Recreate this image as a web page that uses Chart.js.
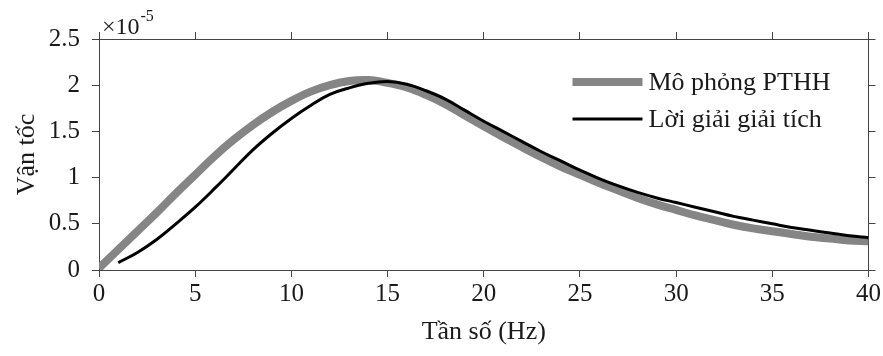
<!DOCTYPE html>
<html>
<head>
<meta charset="utf-8">
<script src="https://cdn.jsdelivr.net/npm/chart.js@4/dist/chart.umd.min.js"></script>
<style>
  html, body { margin: 0; padding: 0; background: #fff; }
  #wrap { width: 883px; height: 356px; }
</style>
</head>
<body>
<div id="wrap"><canvas id="chart"></canvas></div>
<script>
// values are in units of 1e-5
const freqFE = [0, 1, 2, 3, 4, 5, 6, 7, 8, 9, 10, 11, 12, 13, 14, 15, 16, 17, 18, 19, 20,
  21, 22, 23, 24, 25, 26, 27, 28, 29, 30, 31, 32, 33, 34, 35, 36, 37, 38, 39, 40];
const velFE = [0.02, 0.22, 0.42, 0.62, 0.83, 1.03, 1.23, 1.41, 1.57, 1.71, 1.83, 1.93, 2.00, 2.045, 2.055,
  2.025, 1.975, 1.895, 1.795, 1.675, 1.555, 1.44, 1.33, 1.22, 1.12, 1.03, 0.94, 0.86, 0.78, 0.71,
  0.65, 0.59, 0.54, 0.49, 0.45, 0.42, 0.39, 0.36, 0.34, 0.32, 0.31];

const freqAn = [1, 2, 3, 4, 5, 6, 7, 8, 9, 10, 11, 12, 13, 14, 15, 16, 17, 18, 19, 20,
  21, 22, 23, 24, 25, 26, 27, 28, 29, 30, 31, 32, 33, 34, 35, 36, 37, 38, 39, 40];
const velAn = [0.08, 0.19, 0.33, 0.50, 0.68, 0.88, 1.09, 1.30, 1.48, 1.64, 1.78, 1.90, 1.97, 2.02, 2.04,
  2.01, 1.94, 1.85, 1.73, 1.61, 1.50, 1.39, 1.28, 1.18, 1.08, 0.99, 0.91, 0.84, 0.78, 0.73,
  0.68, 0.63, 0.58, 0.54, 0.50, 0.46, 0.43, 0.40, 0.37, 0.35];

const seriesNames = ["Mô phỏng PTHH", "Lời giải giải tích"];
const xTicks = [0, 5, 10, 15, 20, 25, 30, 35, 40];
const yTicks = [0, 0.5, 1, 1.5, 2, 2.5];

const FONT = "'Liberation Serif', 'Times New Roman', serif";
const AXIS = "#444";
const TXT = "#1a1a1a";

function toPoints(xs, ys) {
  return xs.map((x, i) => ({ x: x, y: ys[i] }));
}

// legend + exponent label, drawn inside the plot like the matlab figure
const extras = {
  id: "extras",
  afterDraw(chart) {
    const ctx = chart.ctx;
    const a = chart.chartArea;
    ctx.save();
    ctx.fillStyle = TXT;
    ctx.textBaseline = "alphabetic";
    ctx.textAlign = "left";
    ctx.font = "24px " + FONT;
    ctx.fillText("×10", a.left + 3, a.top - 5);
    const w = ctx.measureText("×10").width;
    ctx.font = "16px " + FONT;
    ctx.fillText("-5", a.left + 3 + w + 1, a.top - 18);

    const ds = chart.data.datasets;
    const x0 = a.right - 296, x1 = a.right - 226;
    const rows = [a.top + 43, a.top + 80];
    ds.forEach((d, i) => {
      ctx.beginPath();
      ctx.strokeStyle = d.borderColor;
      ctx.lineWidth = d.borderWidth;
      ctx.moveTo(x0, rows[i]);
      ctx.lineTo(x1, rows[i]);
      ctx.stroke();
      ctx.font = "26px " + FONT;
      ctx.fillStyle = TXT;
      ctx.textBaseline = "middle";
      ctx.fillText(d.label, x1 + 6, rows[i] + 1);
    });
    ctx.restore();
  }
};

function edgeGrid() {
  return { drawOnChartArea: false, drawTicks: true, tickLength: 7, color: AXIS, lineWidth: 1 };
}

new Chart(document.getElementById("chart"), {
  type: "line",
  data: {
    datasets: [
      {
        label: seriesNames[0],
        data: toPoints(freqFE, velFE),
        borderColor: "#858585",
        borderWidth: 8,
        pointRadius: 0,
        tension: 0.4,
        order: 1
      },
      {
        label: seriesNames[1],
        data: toPoints(freqAn, velAn),
        borderColor: "#000",
        borderWidth: 3,
        pointRadius: 0,
        tension: 0.4,
        order: 0
      }
    ]
  },
  options: {
    responsive: true,
    maintainAspectRatio: false,
    animation: false,
    layout: { padding: 0 },
    plugins: { legend: { display: false }, tooltip: { enabled: false } },
    scales: {
      x: {
        type: "linear",
        position: "bottom",
        min: 0, max: 40,
        afterBuildTicks: s => { s.ticks = xTicks.map(v => ({ value: v })); },
        grid: edgeGrid(),
        border: { display: true, color: AXIS, width: 1 },
        ticks: { color: TXT, font: { family: FONT, size: 25 }, padding: 2, maxRotation: 0, callback: v => String(v) },
        title: { display: true, text: "Tần số (Hz)", color: TXT, font: { family: FONT, size: 26 }, padding: { top: 0, bottom: 8 } },
        afterFit: s => { s.height = 86; }
      },
      xTop: {
        type: "linear",
        position: "top",
        min: 0, max: 40,
        afterBuildTicks: s => { s.ticks = xTicks.map(v => ({ value: v })); },
        grid: edgeGrid(),
        border: { display: true, color: AXIS, width: 1 },
        ticks: { display: false },
        afterFit: s => { s.height = 39; }
      },
      y: {
        type: "linear",
        position: "left",
        min: 0, max: 2.5,
        afterBuildTicks: s => { s.ticks = yTicks.map(v => ({ value: v })); },
        grid: edgeGrid(),
        border: { display: true, color: AXIS, width: 1 },
        ticks: { color: TXT, font: { family: FONT, size: 25 }, padding: 12, callback: v => String(v) },
        title: { display: true, text: "Vận tốc", color: TXT, font: { family: FONT, size: 26 }, padding: { top: 12, bottom: 0 } },
        afterFit: s => { s.width = 99; }
      },
      yRight: {
        type: "linear",
        position: "right",
        min: 0, max: 2.5,
        afterBuildTicks: s => { s.ticks = yTicks.map(v => ({ value: v })); },
        grid: edgeGrid(),
        border: { display: true, color: AXIS, width: 1 },
        ticks: { display: false },
        afterFit: s => { s.width = 14; }
      }
    }
  },
  plugins: [extras]
});
</script>
</body>
</html>
